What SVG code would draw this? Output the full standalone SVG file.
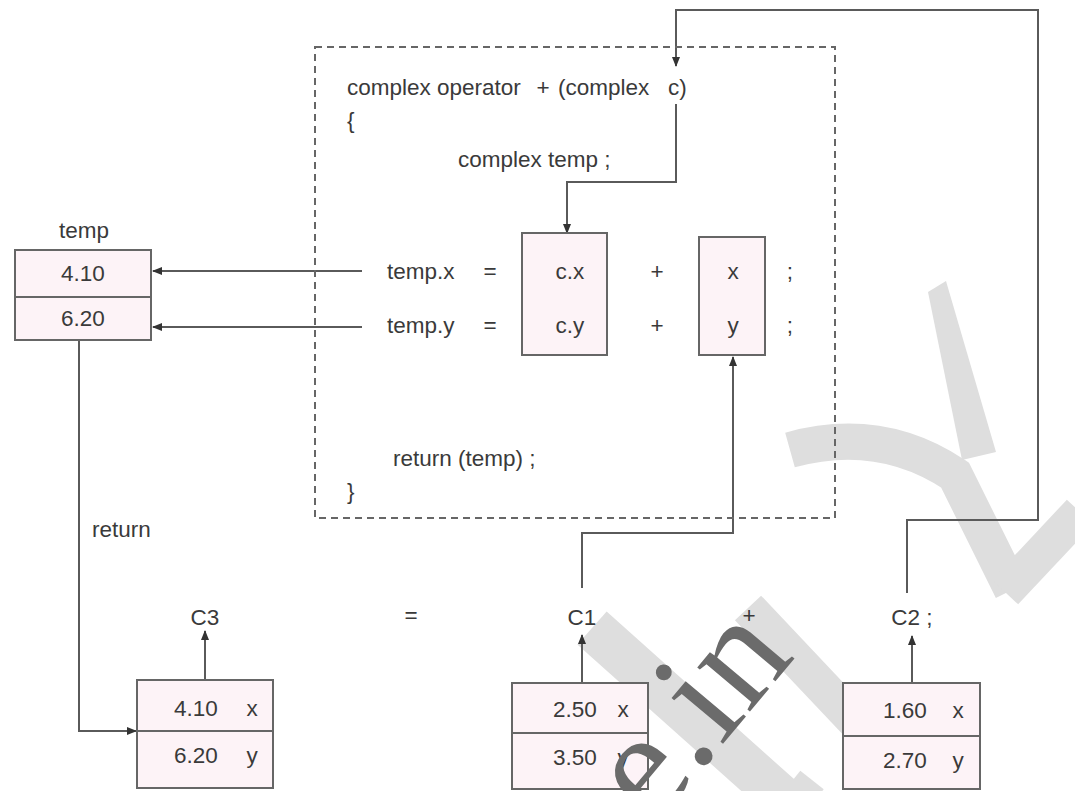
<svg xmlns="http://www.w3.org/2000/svg" width="1075" height="791" viewBox="0 0 1075 791">
<defs>
<marker id="arr" markerWidth="10" markerHeight="8" refX="9" refY="4" orient="auto" markerUnits="userSpaceOnUse">
<path d="M0,0 L10,4 L0,8 z" fill="#333"/>
</marker>
<style>
.t{font-family:"Liberation Sans",Arial,sans-serif;font-size:22.5px;fill:#3a3a3a}
.m{text-anchor:middle}
.box{fill:#fdf3f7;stroke:#666;stroke-width:2}
.ln{fill:none;stroke:#666;stroke-width:2}
.c{fill:none;stroke:#5a5a5a;stroke-width:2}
.wm{fill:none;stroke:#dedede;stroke-linecap:butt}
</style>
</defs>
<rect width="1075" height="791" fill="#ffffff"/>

<g id="watermark-light">
<path class="wm" d="M592 628 L790 805" stroke-width="44"/>
<path class="wm" d="M748 608 L868 735" stroke-width="36"/>
<path class="wm" d="M790 450 Q880 425 955 475 L1012 590" stroke-width="36"/>
<polygon points="928,292 946,281 996,452 962,460" fill="#dedede"/>
<path class="wm" d="M1080 512 L1005 592" stroke-width="36"/>
<path class="wm" d="M812 780 L800 795" stroke-width="30"/>
</g>

<g id="connectors">
<path class="c" d="M362 271 L153 271" marker-end="url(#arr)"/>
<path class="c" d="M362 327 L153 327" marker-end="url(#arr)"/>
<path class="c" d="M907 593 L907 520 L1038 520 L1038 10 L676 10 L676 66" marker-end="url(#arr)"/>
<path class="c" d="M676 104 L676 182 L567 182 L567 233" marker-end="url(#arr)"/>
<path class="c" d="M582 588 L582 533 L733 533 L733 357" marker-end="url(#arr)"/>
<path class="c" d="M79 340 L79 731 L136 731" marker-end="url(#arr)"/>
<path class="c" d="M205 680 L205 631" marker-end="url(#arr)"/>
<path class="c" d="M582 683 L582 635" marker-end="url(#arr)"/>
<path class="c" d="M912 683 L912 636" marker-end="url(#arr)"/>
</g>

<g id="function-body">
<rect x="315" y="47" width="520" height="471" fill="none" stroke="#666" stroke-width="2" stroke-dasharray="7 5"/>
<text class="t" x="347" y="95">complex operator</text>
<text class="t m" x="543" y="95">+</text>
<text class="t" x="558" y="95">(complex</text>
<text class="t" x="668" y="95">c)</text>
<text class="t" x="347" y="128">{</text>
<text class="t" x="458" y="167">complex temp ;</text>
<text class="t" x="387" y="279">temp.x</text>
<text class="t m" x="490" y="279">=</text>
<text class="t m" x="657" y="279">+</text>
<text class="t m" x="790" y="279">;</text>
<text class="t" x="387" y="333">temp.y</text>
<text class="t m" x="490" y="333">=</text>
<text class="t m" x="657" y="333">+</text>
<text class="t m" x="790" y="333">;</text>
<text class="t" x="393" y="466">return (temp) ;</text>
<text class="t" x="347" y="499">}</text>
</g>

<g id="c-members">
<rect class="box" x="522" y="233" width="85" height="122"/>
<text class="t m" x="570" y="279">c.x</text>
<text class="t m" x="570" y="333">c.y</text>
</g>

<g id="this-members">
<rect class="box" x="699" y="237" width="66" height="118"/>
<text class="t m" x="733" y="279">x</text>
<text class="t m" x="733" y="333">y</text>
</g>

<g id="temp-box">
<text class="t m" x="84" y="238">temp</text>
<rect class="box" x="15" y="250" width="136" height="90"/>
<line class="ln" x1="15" y1="297" x2="151" y2="297"/>
<text class="t m" x="83" y="281">4.10</text>
<text class="t m" x="83" y="326">6.20</text>
</g>

<text class="t" x="92" y="537">return</text>

<g id="C3">
<text class="t m" x="205" y="625">C3</text>
<rect class="box" x="137" y="680" width="136" height="108"/>
<line class="ln" x1="137" y1="731" x2="273" y2="731"/>
<text class="t m" x="196" y="716">4.10</text>
<text class="t m" x="252" y="716">x</text>
<text class="t m" x="196" y="763">6.20</text>
<text class="t m" x="252" y="763">y</text>
</g>

<text class="t m" x="411" y="623">=</text>

<g id="C1">
<text class="t m" x="582" y="625">C1</text>
<rect class="box" x="512" y="683" width="136" height="106"/>
<line class="ln" x1="512" y1="733" x2="648" y2="733"/>
<text class="t m" x="575" y="717">2.50</text>
<text class="t m" x="623" y="717">x</text>
<text class="t m" x="575" y="765">3.50</text>
<text class="t m" x="623" y="765">y</text>
</g>

<text class="t m" x="749" y="623">+</text>

<g id="C2">
<text class="t m" x="912" y="625">C2 ;</text>
<rect class="box" x="843" y="683" width="137" height="106"/>
<line class="ln" x1="843" y1="736" x2="980" y2="736"/>
<text class="t m" x="905" y="718">1.60</text>
<text class="t m" x="958" y="718">x</text>
<text class="t m" x="905" y="768">2.70</text>
<text class="t m" x="958" y="768">y</text>
</g>

<g id="watermark-dark">
<text x="0" y="0" transform="translate(654,826) rotate(-50)" font-family="Liberation Serif, serif" font-size="150" fill="#6b6b6b">e.in</text>
</g>
</svg>
